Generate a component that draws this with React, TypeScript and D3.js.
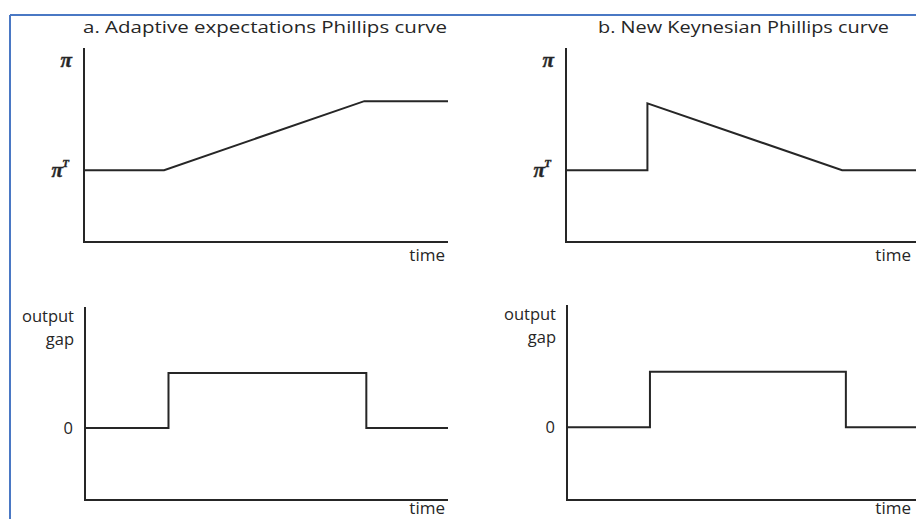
import * as d3 from "d3";

// time runs 0..10 on every panel
const timeAInflation = [0, 2.2, 7.7, 10];
const inflationA = [2, 2, 3.92, 3.92];
const timeBInflation = [0, 2.3, 2.3, 7.8, 10];
const inflationB = [2, 2, 3.86, 2, 2];

const timeAGap = [0, 2.3, 2.3, 7.75, 7.75, 10];
const gapA = [0, 0, 1, 1, 0, 0];
const timeBGap = [0, 2.35, 2.35, 7.9, 7.9, 10];
const gapB = [0, 0, 1, 1, 0, 0];

const titles = ["a. Adaptive expectations Phillips curve", "b. New Keynesian Phillips curve"];
const xLabel = "time";
const gapLabel = ["output", "gap"];

const W = 916;
const H = 519;
const INK = "#262626";
const FONT = "'Open Sans', 'Noto Sans', sans-serif";
const PI_FONT = "'Liberation Serif', 'DejaVu Serif', serif";

type Pt = [number, number];
const zip = (xs: number[], ys: number[]): Pt[] => xs.map((x, i) => [x, ys[i]]);

interface PanelProps {
  x0: number;
  x1: number;
  yTop: number;
  yBottom: number;
  domain: [number, number];
  pts: Pt[];
  kind: "inflation" | "gap";
  labelDy: number;
}

function Panel({ x0, x1, yTop, yBottom, domain, pts, kind, labelDy }: PanelProps) {
  const x = d3.scaleLinear().domain([0, 10]).range([x0, x1]);
  const y = d3.scaleLinear().domain(domain).range([yBottom, yTop]);
  const line = d3.line<Pt>().x((d) => x(d[0])).y((d) => y(d[1]));
  const ref = kind === "inflation" ? 2 : 0;
  const right = Math.min(x1, W - 2);

  return (
    <g>
      <line x1={x0} x2={x0} y1={yTop} y2={yBottom} stroke={INK} strokeWidth={2} />
      <line x1={x0 - 1} x2={x1} y1={yBottom} y2={yBottom} stroke={INK} strokeWidth={2} />
      <path d={line(pts) ?? ""} fill="none" stroke={INK} strokeWidth={2} strokeLinejoin="miter" />
      <text x={right - 3} y={yBottom + labelDy} textAnchor="end" fontSize={17} fontFamily={FONT} fill={INK}>
        {xLabel}
      </text>
      {kind === "inflation" ? (
        <g fontFamily={PI_FONT} fontStyle="italic" fontWeight="bold" fill={INK} stroke={INK} strokeWidth={0.4}>
          <text x={x0 - 12} y={yTop + 19} textAnchor="end" fontSize={21}>π</text>
          <text x={x0 - 21} y={y(ref) + 7} textAnchor="end" fontSize={21}>π</text>
          <text x={x0 - 15} y={y(ref) - 3} textAnchor="end" fontSize={11}>T</text>
        </g>
      ) : (
        <g fontFamily={FONT} fontSize={16.5} fill={INK} textAnchor="end">
          <text x={x0 - 11} y={yTop + 15}>{gapLabel[0]}</text>
          <text x={x0 - 11} y={yTop + 38}>{gapLabel[1]}</text>
          <text x={x0 - 12} y={y(ref) + 6}>0</text>
        </g>
      )}
    </g>
  );
}

export default function App() {
  return (
    <svg width={W} height={H} style={{ position: "absolute", left: 0, top: 0, background: "#fff" }}>
      <rect width={W} height={H} fill="#fff" />
      <line x1={10} x2={W} y1={15} y2={15} stroke="#4a78c4" strokeWidth={2} />
      <line x1={10} x2={10} y1={15} y2={H} stroke="#4a78c4" strokeWidth={2} />

      <text x={83} y={33} fontSize={17} fontFamily={FONT} fill={INK} textLength={364} lengthAdjust="spacingAndGlyphs">
        {titles[0]}
      </text>
      <text x={598} y={33} fontSize={17} fontFamily={FONT} fill={INK} textLength={291} lengthAdjust="spacingAndGlyphs">
        {titles[1]}
      </text>

      <Panel x0={84} x1={448} yTop={48} yBottom={242} domain={[0, 5.4]} pts={zip(timeAInflation, inflationA)} kind="inflation" labelDy={19} />
      <Panel x0={566} x1={920} yTop={48} yBottom={242} domain={[0, 5.4]} pts={zip(timeBInflation, inflationB)} kind="inflation" labelDy={19} />
      <Panel x0={85} x1={448} yTop={307} yBottom={500} domain={[-1.31, 2.2]} pts={zip(timeAGap, gapA)} kind="gap" labelDy={14} />
      <Panel x0={567} x1={920} yTop={305} yBottom={500} domain={[-1.31, 2.2]} pts={zip(timeBGap, gapB)} kind="gap" labelDy={14} />
    </svg>
  );
}
